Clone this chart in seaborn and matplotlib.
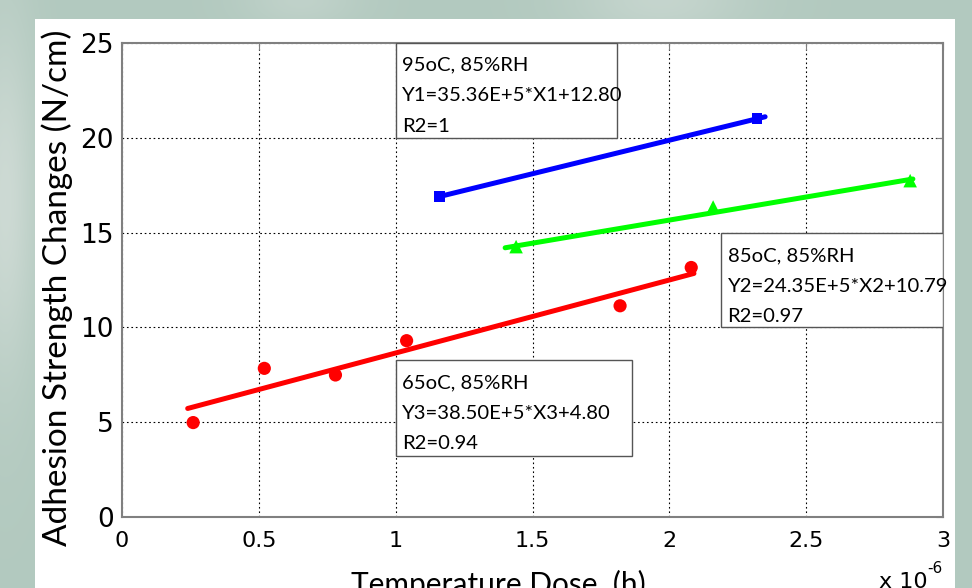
import numpy as np
import pandas as pd
import matplotlib
matplotlib.use("Agg")
import matplotlib.pyplot as plt
from matplotlib.patches import Rectangle
import seaborn as sns

# ---- measured points (x in units of 1e-6 h) ----
blue_x = [1.16, 2.32]
blue_y = [16.90, 21.00]
green_x = [1.44, 2.16, 2.88]
green_y = [14.26, 16.35, 17.74]
red_x = [0.26, 0.52, 0.78, 1.04, 1.82, 2.08]
red_y = [4.98, 7.84, 7.49, 9.30, 11.14, 13.16]

# ---- linear fits: Y = slope * X + intercept ----
fit_slopes = [35.36e5, 24.35e5, 38.50e5]
fit_intercepts = [12.80, 10.79, 4.80]
fit_ranges = [(1.16, 2.35), (1.40, 2.89), (0.24, 2.09)]
series_names = ["95oC, 85%RH", "85oC, 85%RH", "65oC, 85%RH"]
series_colors = ["#0000ff", "#00ff00", "#ff0000"]
series_markers = ["s", "^", "o"]
fit_labels = [
    ["95oC, 85%RH", "Y1=35.36E+5*X1+12.80", "R2=1"],
    ["85oC, 85%RH", "Y2=24.35E+5*X2+10.79", "R2=0.97"],
    ["65oC, 85%RH", "Y3=38.50E+5*X3+4.80", "R2=0.94"],
]

x_ticks = [0, 0.5, 1, 1.5, 2, 2.5, 3]
x_tick_labels = ["0", "0.5", "1", "1.5", "2", "2.5", "3"]
y_ticks = [0, 5, 10, 15, 20, 25]

points = pd.concat([
    pd.DataFrame({"x": blue_x, "y": blue_y, "series": series_names[0]}),
    pd.DataFrame({"x": green_x, "y": green_y, "series": series_names[1]}),
    pd.DataFrame({"x": red_x, "y": red_y, "series": series_names[2]}),
], ignore_index=True)

fit_rows = []
for name, k, b, (x0, x1) in zip(series_names, fit_slopes, fit_intercepts, fit_ranges):
    for xv in (x0, x1):
        fit_rows.append({"x": xv, "y": k * xv * 1e-6 + b, "series": name})
fits = pd.DataFrame(fit_rows)

sns.set_style("white")
NARROW = ["Liberation Sans Narrow", "DejaVu Sans"]
CAL = ["Lato", "DejaVu Sans"]
plt.rcParams["font.family"] = CAL

W, H = 972, 588
fig = plt.figure(figsize=(W / 100, H / 100), dpi=100)

# slide background with a soft gradient
yy, xx = np.mgrid[0:H, 0:W]
base = np.array([0.70, 0.79, 0.75])
light = np.array([0.83, 0.87, 0.85])
w = 0.55 * np.exp(-((xx - 660) / 90.0) ** 2) * np.exp(-(yy / 40.0) ** 2)
w += 0.8 * np.exp(-((xx - 5) / 30.0) ** 2) * np.exp(-((yy - 200) / 180.0) ** 2)
w += 0.4 * np.exp(-((xx - 300) / 60.0) ** 2) * np.exp(-(yy / 30.0) ** 2)
w = np.clip(w, 0, 1)[..., None]
bg = base * (1 - w) + light * w
fig.figimage(bg, xo=0, yo=0, zorder=-3, origin="upper")
fig.patches.append(Rectangle((35 / W, 0), (955 - 35) / W, (H - 19) / H,
                             transform=fig.transFigure, facecolor="white",
                             edgecolor="none", zorder=-2))

ax = fig.add_axes([122 / W, (H - 517) / H, (943 - 122) / W, (517 - 43) / H])
ax.set_zorder(1)
ax.set_facecolor("white")

palette = dict(zip(series_names, series_colors))
sns.lineplot(data=fits, x="x", y="y", hue="series", palette=palette,
             linewidth=3.6, legend=False, ax=ax, zorder=3)
for name, mk, sz in zip(series_names, series_markers, [60, 95, 90]):
    sub = points[points["series"] == name]
    sns.scatterplot(data=sub, x="x", y="y", color=palette[name], marker=mk,
                    s=sz, edgecolor="none", legend=False, ax=ax, zorder=4)

ax.set_xlim(0, 3)
ax.set_ylim(0, 25)
ax.set_xticks(x_ticks)
ax.set_xticklabels(x_tick_labels, family=NARROW, fontsize=16)
ax.set_yticks(y_ticks)
ax.set_yticklabels([str(v) for v in y_ticks], family=NARROW, fontsize=19)
ax.set_xlabel("")
ax.set_ylabel("")
ax.grid(True, color="black", linestyle=(0, (1.5, 2.5)), linewidth=0.8)
ax.set_axisbelow(True)
for sp in ax.spines.values():
    sp.set_color("#808080")
    sp.set_linewidth(1.5)
ax.tick_params(direction="in", length=5, width=0.8, color="#808080",
               top=True, right=True, labelcolor="black", pad=6)
ax.tick_params(axis="x", pad=10)

# fit annotation boxes (data coordinates: x0, x1, y0, y1)
boxes = [(1.0, 1.81, 20.0, 25.0), (2.19, 3.0, 10.0, 14.96), (1.0, 1.862, 3.21, 8.26)]
for (x0, x1, y0, y1), lines in zip(boxes, fit_labels):
    ax.add_patch(Rectangle((x0, y0), x1 - x0, y1 - y0, facecolor="white",
                           edgecolor="#555555", linewidth=1.0, zorder=5))
    for i, txt in enumerate(lines):
        ax.annotate(txt, xy=(x0, y1), xytext=(4.5, -16.0 - 22.0 * i),
                    textcoords="offset points", ha="left", va="center",
                    fontsize=14.6, family=CAL, color="black", zorder=6)

fig.text(57 / W, 1 - 288 / H, "Adhesion Strength Changes (N/cm)", rotation=90,
         ha="center", va="center", fontsize=24, family=CAL, color="black")
fig.text(498 / W, 1 - 570 / H, "Temperature Dose  (h)", ha="center", va="top",
         fontsize=21.5, family=CAL, color="black")
fig.text(928 / W, 1 - 572 / H, "x 10", ha="right", va="top",
         fontsize=16, family=NARROW, color="black")
fig.text(927 / W, 1 - 561 / H, "-6", ha="left", va="top",
         fontsize=11, family=NARROW, color="black")

fig.savefig("out.png", dpi=100)
